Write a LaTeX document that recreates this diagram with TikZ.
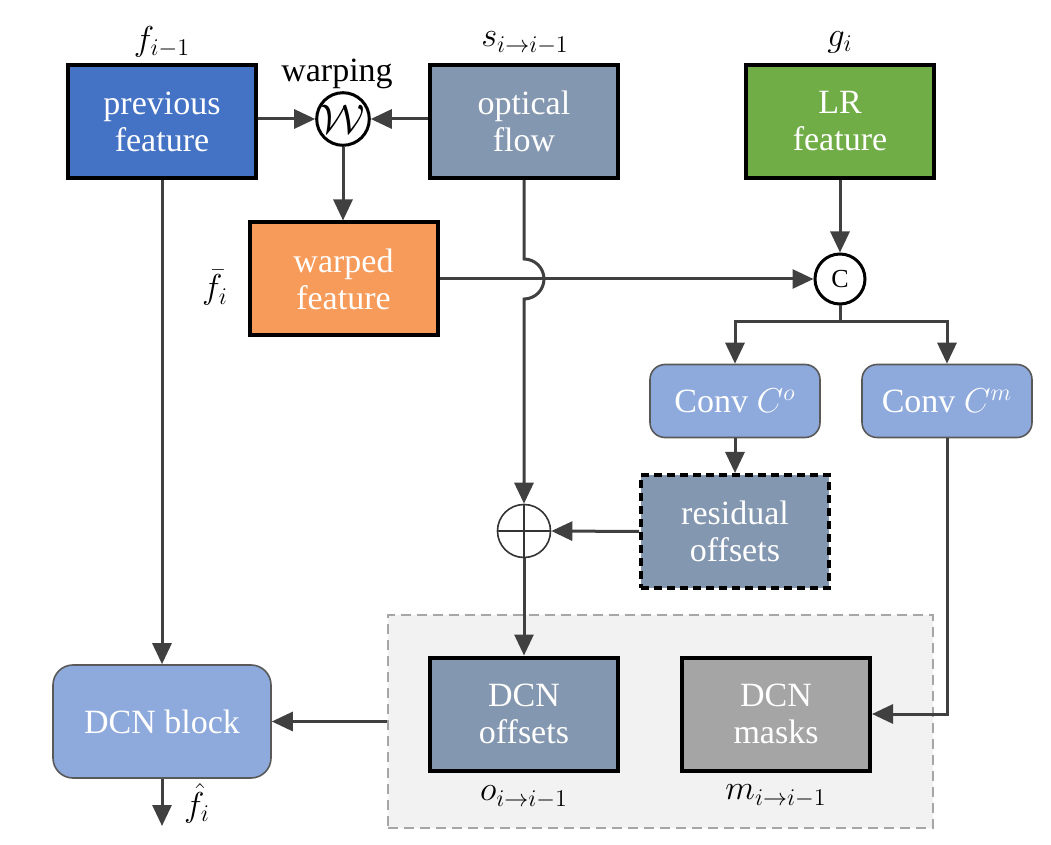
\documentclass[tikz,border=0pt]{standalone}
\usepackage{fontspec}
\setmainfont{Liberation Serif}
\usetikzlibrary{arrows.meta,calc}
\definecolor{cprev}{HTML}{4472C4}
\definecolor{cflow}{HTML}{8497B0}
\definecolor{clr}{HTML}{70AD47}
\definecolor{cwarp}{HTML}{F79B5A}
\definecolor{cconv}{HTML}{8EA9DB}
\definecolor{cmask}{HTML}{A5A5A5}
\definecolor{cline}{HTML}{404040}
\definecolor{cregion}{HTML}{F2F2F2}
\definecolor{cregionb}{HTML}{A6A6A6}
\tikzset{
  boxa/.style={draw=black, line width=2pt, text=white, align=center,
    minimum width=94pt, minimum height=56.5pt, inner sep=0pt,
    font=\fontsize{17}{18.5}\selectfont},
  rbox/.style={draw=black!65, line width=0.8pt, text=white, align=center,
    rounded corners=7.5pt, minimum width=85pt, minimum height=36.5pt, inner sep=0pt,
    font=\fontsize{17}{18.5}\selectfont},
  opc/.style={circle, draw=black, line width=1.5pt, fill=white, minimum size=25pt, inner sep=0pt},
  conn/.style={draw=cline, line width=1.5pt},
  arr/.style={conn, -{Triangle[length=10.5pt,width=9.5pt]}},
  lbl/.style={font=\fontsize{17}{18.5}\selectfont, inner sep=0pt},
}
\begin{document}
\begin{tikzpicture}[x=0.5pt,y=-0.5pt]
\useasboundingbox (0,0) rectangle (1051,845);
% grey region
\node[draw=cregionb, fill=cregion, dashed, dash pattern=on 5pt off 3pt, line width=1.2pt,
  minimum width=272.5pt, minimum height=106.5pt, inner sep=0pt] (region) at (660.5,721.5) {};
% boxes
\node[boxa, fill=cprev] (prev) at (162,121.5) {previous\\feature};
\node[boxa, fill=cflow] (flow) at (524,121.5) {optical\\flow};
\node[boxa, fill=clr] (lr) at (840,121.5) {LR\\feature};
\node[boxa, fill=cwarp] (warped) at (343.5,279) {warped\\feature};
\node[rbox, fill=cconv] (convo) at (735,401) {Conv $C^o$};
\node[rbox, fill=cconv] (convm) at (947,401) {Conv $C^m$};
\node[boxa, fill=cflow, dashed, dash pattern=on 4pt off 2.5pt] (resid) at (735,531.5) {residual\\offsets};
\node[boxa, fill=cflow] (dcnoff) at (524,714) {DCN\\offsets};
\node[boxa, fill=cmask] (dcnmask) at (776,714) {DCN\\masks};
\node[rbox, fill=cconv, rounded corners=10pt, minimum width=109pt, minimum height=56.5pt] (dcnblock) at (162,721.5) {DCN block};
% operators
\node[opc, font=\fontsize{22}{22}\selectfont] (warp) at (343,119) {$\mathcal{W}$};
\node[opc] (concat) at (840,279) {\fontsize{13}{13}\selectfont C};
\node[circle, draw=black!80, line width=0.8pt, fill=white, minimum size=26.5pt, inner sep=0pt] (plus) at (524,531) {};
\draw[black!80, line width=0.8pt] (plus.north) -- (plus.south) (plus.west) -- (plus.east);
% labels
\node[lbl] (l1) at (162,42) {$f_{i-1}$};
\node[lbl] (l2) at (337,74) {warping};
\node[lbl] (l3) at (525,43) {$s_{i\rightarrow i-1}$};
\node[lbl] (l4) at (840,42) {$g_i$};
\node[lbl] (l5) at (215,288) {$\bar{f}_i$};
\node[lbl] (l6) at (524,797) {$o_{i\rightarrow i-1}$};
\node[lbl] (l7) at (776,796) {$m_{i\rightarrow i-1}$};
\node[lbl] (l8) at (197,803) {$\hat{f}_i$};
% connectors
\draw[arr] (prev.east |- warp.west) -- (warp.west);
\draw[arr] (flow.west |- warp.east) -- (warp.east);
\draw[arr] (warp.south) -- (warp.south |- warped.north);
\draw[arr] (lr.south) -- (concat.north);
\draw[arr] (warped.east |- concat.west) -- (concat.west);
\coordinate (hopa) at (524,259);
\coordinate (hopb) at (524,299);
\coordinate (split) at (840,322);
\draw[arr] (flow.south) -- (hopa) .. controls (535,259) and (544,268) .. (544,279)
   .. controls (544,290) and (535,299) .. (hopb) -- (plus.north);
\draw[conn] (concat.south) -- (split);
\draw[arr] (split) -| (convo.north);
\draw[arr] (split) -| (convm.north);
\draw[arr] (convo.south) -- (resid.north);
\draw[arr] (resid.west) -- (plus.east);
\draw[arr] (plus.south) -- (dcnoff.north);
\draw[arr] (convm.south) |- (dcnmask.east);
\draw[arr] (prev.south) -- (dcnblock.north);
\draw[arr] (region.west) -- (dcnblock.east);
\coordinate (out) at (162,826);
\draw[arr] (dcnblock.south) -- (out);
\end{tikzpicture}
\end{document}
